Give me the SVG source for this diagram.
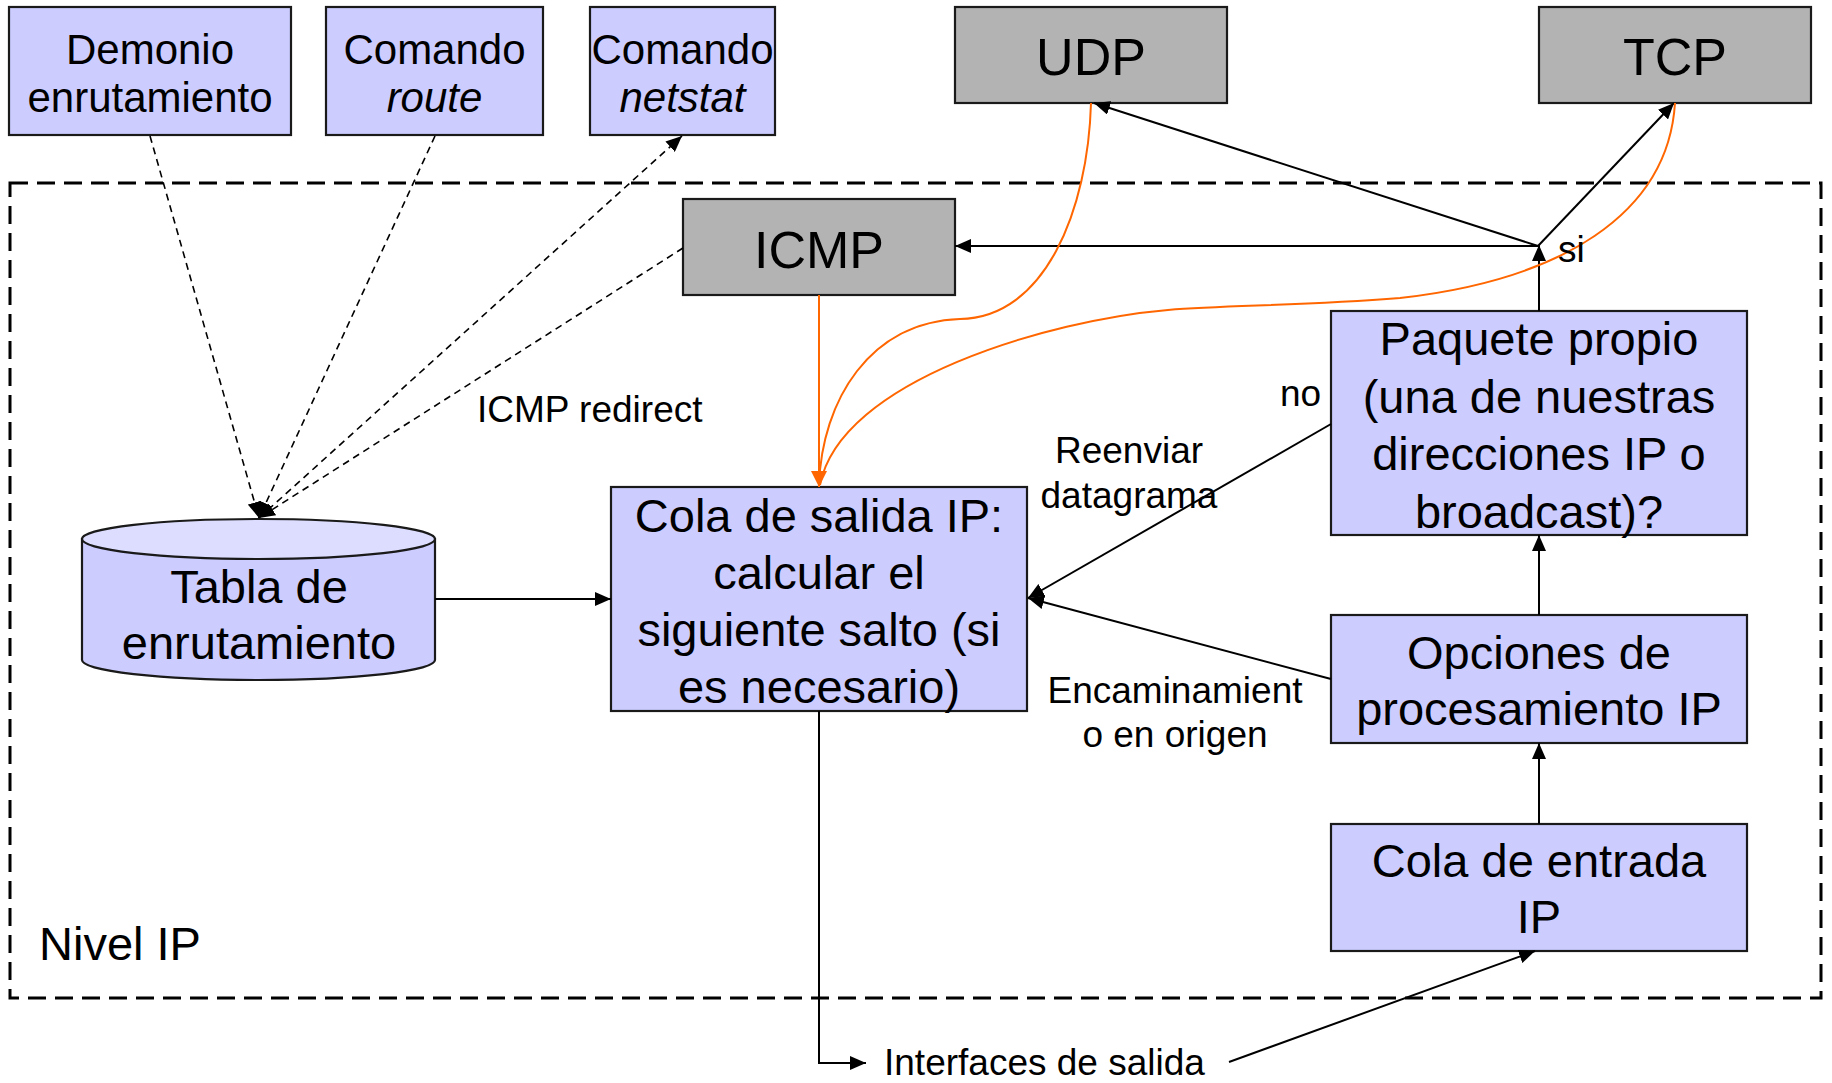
<svg xmlns="http://www.w3.org/2000/svg" width="1832" height="1083" viewBox="0 0 1832 1083">
<style>
text{font-family:"Liberation Sans",Arial,sans-serif;fill:#000}
.n{fill:#ccccff;stroke:#1a1a1a;stroke-width:2.2}
.g{fill:#b3b3b3;stroke:#1a1a1a;stroke-width:2.2}
.t42{font-size:42px;text-anchor:middle}
.t47{font-size:47px;text-anchor:middle}
.t52{font-size:52px;text-anchor:middle}
.lbl{font-size:37px}
.c{fill:none;stroke:#000;stroke-width:2}
.d{fill:none;stroke:#000;stroke-width:1.6;stroke-dasharray:7,5}
.o{fill:none;stroke:#ff6600;stroke-width:2}
</style>
<defs>
<marker id="a" markerUnits="userSpaceOnUse" markerWidth="16" markerHeight="14" refX="16" refY="7" orient="auto"><path d="M0,0 L16,7 L0,14 z" fill="#000"/></marker>
<marker id="ao" markerUnits="userSpaceOnUse" markerWidth="16" markerHeight="16" refX="16" refY="8" orient="auto"><path d="M0,0 L16,8 L0,16 z" fill="#ff6600"/></marker>
</defs>
<rect x="0" y="0" width="1832" height="1083" fill="#fff"/>
<g id="nivel-ip">
<rect x="10" y="183" width="1811" height="815" fill="none" stroke="#000" stroke-width="3" stroke-dasharray="18,9"/>
<text x="39" y="960" class="lbl" style="font-size:47px">Nivel IP</text>
</g>
<g id="demonio"><rect class="n" x="9" y="7" width="282" height="128"/><text class="t42" x="150" y="64">Demonio</text><text class="t42" x="150" y="112">enrutamiento</text></g>
<g id="route"><rect class="n" x="326" y="7" width="217" height="128"/><text class="t42" x="434.5" y="64">Comando</text><text class="t42" x="434.5" y="112" font-style="italic">route</text></g>
<g id="netstat"><rect class="n" x="590" y="7" width="185" height="128"/><text class="t42" x="682.5" y="64">Comando</text><text class="t42" x="682.5" y="112" font-style="italic">netstat</text></g>
<g id="udp"><rect class="g" x="955" y="7" width="272" height="96"/><text class="t52" x="1091" y="75">UDP</text></g>
<g id="tcp"><rect class="g" x="1539" y="7" width="272" height="96"/><text class="t52" x="1675" y="75">TCP</text></g>
<g id="icmp"><rect class="g" x="683" y="199" width="272" height="96"/><text class="t52" x="819" y="268">ICMP</text></g>
<g id="tabla">
<path d="M82,539 L82,660 A176.5,20 0 0 0 435,660 L435,539 Z" fill="#ccccff" stroke="#1a1a1a" stroke-width="2.2"/>
<ellipse cx="258.5" cy="539" rx="176.5" ry="20" fill="#ddddff" stroke="#1a1a1a" stroke-width="2.2"/>
<text class="t47" x="259" y="603">Tabla de</text><text class="t47" x="259" y="659">enrutamiento</text>
</g>
<g id="cola-salida"><rect class="n" x="611" y="487" width="416" height="224"/>
<text class="t47" x="819" y="532">Cola de salida IP:</text><text class="t47" x="819" y="589">calcular el</text><text class="t47" x="819" y="646">siguiente salto (si</text><text class="t47" x="819" y="703">es necesario)</text></g>
<g id="paquete"><rect class="n" x="1331" y="311" width="416" height="224"/>
<text class="t47" x="1539" y="355">Paquete propio</text><text class="t47" x="1539" y="413">(una de nuestras</text><text class="t47" x="1539" y="470">direcciones IP o</text><text class="t47" x="1539" y="528">broadcast)?</text></g>
<g id="opciones"><rect class="n" x="1331" y="615" width="416" height="128"/>
<text class="t47" x="1539" y="669">Opciones de</text><text class="t47" x="1539" y="725">procesamiento IP</text></g>
<g id="cola-entrada"><rect class="n" x="1331" y="824" width="416" height="127"/>
<text class="t47" x="1539" y="877">Cola de entrada</text><text class="t47" x="1539" y="933">IP</text></g>
<g id="connectors">
<path class="d" d="M150,136 L259,518" marker-end="url(#a)"/>
<path class="d" d="M435,136 L259,518" marker-end="url(#a)"/>
<path class="d" d="M259,518 L682,136" marker-end="url(#a)"/>
<path class="d" d="M683,248 L259,518" marker-end="url(#a)"/>
<path class="c" d="M435,599 L611,599" marker-end="url(#a)"/>
<path class="c" d="M819,711 L819,1063 L866,1063" marker-end="url(#a)"/>
<path class="c" d="M1229,1062 L1535,951" marker-end="url(#a)"/>
<path class="c" d="M1539,824 L1539,743" marker-end="url(#a)"/>
<path class="c" d="M1539,615 L1539,535" marker-end="url(#a)"/>
<path class="c" d="M1539,311 L1539,245" marker-end="url(#a)"/>
<path class="c" d="M1538,246 L955,246" marker-end="url(#a)"/>
<path class="c" d="M1538,246 L1094,103" marker-end="url(#a)"/>
<path class="c" d="M1538,246 L1674,103" marker-end="url(#a)"/>
<path class="c" d="M1331,424 L1028,598" marker-end="url(#a)"/>
<path class="c" d="M1331,679 L1028,598" marker-end="url(#a)"/>
<path class="o" d="M819,295 L819,487" marker-end="url(#ao)"/>
<path class="o" d="M1091,103 C1088,210 1045,318 960,319 C870,322 822,400 819,485"/>
<path class="o" d="M1675,103 C1668,215 1560,280 1400,298 C1300,306 1230,305 1168,310 C1050,320 840,380 820,485"/>
<text class="lbl" x="477" y="422">ICMP redirect</text>
<text class="lbl" x="1280" y="406">no</text>
<text class="lbl" x="1129" y="463" text-anchor="middle">Reenviar</text>
<text class="lbl" x="1129" y="508" text-anchor="middle">datagrama</text>
<text class="lbl" x="1175" y="703" text-anchor="middle">Encaminamient</text>
<text class="lbl" x="1175" y="747" text-anchor="middle">o en origen</text>
<text class="lbl" x="1558" y="262">si</text>
<text class="lbl" x="884" y="1075">Interfaces de salida</text>
</g>
</svg>
